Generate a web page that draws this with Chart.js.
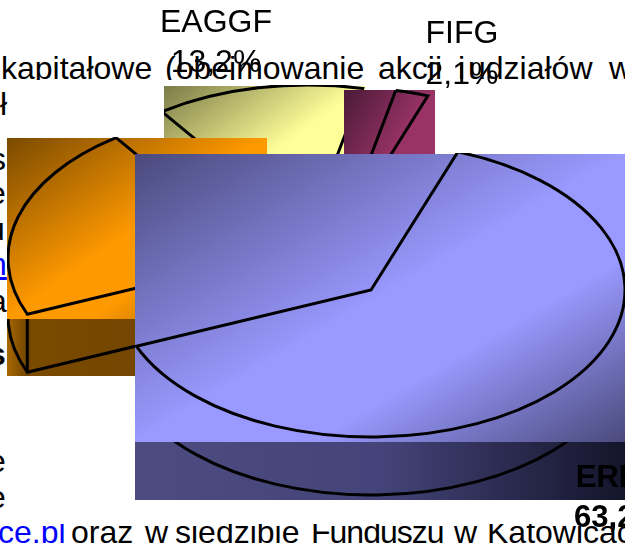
<!DOCTYPE html>
<html><head><meta charset="utf-8">
<script src="https://cdn.jsdelivr.net/npm/chart.js@4/dist/chart.umd.min.js"></script>
<style>
html,body{margin:0;padding:0;background:#fff;overflow:hidden}
#page{position:relative;width:625px;height:543px;overflow:hidden;font-family:"Liberation Sans",Arial,sans-serif;color:#000}
.clip{position:absolute;left:0;width:625px;overflow:hidden}
.w{position:absolute;line-height:1;white-space:nowrap;font-size:32px}
canvas{position:absolute;left:0;top:0}
</style></head>
<body><div id="page"><div id="text"></div><canvas id="c" width="625" height="543"></canvas></div>
<script>
const categories = ['ERDF', 'ESF', 'EAGGF', 'FIFG'];
const shares = [63.2, 21.5, 13.2, 2.1];
const startDegrees = 20;

// Body text showing behind the chart: [text, left, baseline, extra style]
const topLine = [['kapitałowe',1,79],['(obejmowanie',165,79],['akcji',378,79],['i',458,79],['udziałów',468,79],['w',609,79]];
const bottomLine = [['ce.pl',-2,543,'color:#00f'],['oraz',71,543],['w',145,543],['siedzibie',175,543],['Funduszu',311,543,'letter-spacing:-1px'],['w',454,543],['Katowicach',487,543]];
const fragments = [['ł',0,115],['s',-10,170],['e',-12,204],['u',-13,240],['n',-11,275,'color:#00f;text-decoration:underline'],['a',-11,312],['s',-12,365,'font-weight:bold'],['e',-12,472],['e',-12,508]];

// Layout of each slice, in page pixels: apex, gradient box, side-wall band, label lines
const layout = {
  ERDF:{apex:[371,290],box:[135,154,490,288],stops:[[0,'#4a4a7c'],[.5,'#9999ff'],[.68,'#9999ff'],[1,'#4a4a7c']],band:[135,442,490,58],bandStops:[[0,'#4c4c80'],[.5,'#44447a'],[1,'#14142a']],
        label:{x:618,y:[487,527],font:'bold 31px "Liberation Sans"'}},
  ESF:{apex:[262,258],box:[7,138,260,181],stops:[[0,'#7a4a00'],[.5,'#ff9900'],[.66,'#ff9900'],[1,'#8a5400']],band:[7,319,128,57],bandStops:[[0,'#a86800'],[.16,'#704400'],[.2,'#7a4a00'],[1,'#744600']]},
  EAGGF:{apex:[308,232],box:[164,86,201,146],stops:[[0,'#7b7b48'],[.5,'#ffff99'],[1,'#ffff99']],label:{x:216,y:[32,72],font:'32px "Liberation Sans"'}},
  FIFG:{apex:[341,234],box:[344,90,91,146],stops:[[0,'#4a1a38'],[.5,'#993366'],[1,'#993366']],label:{x:462,y:[43,84],font:'32px "Liberation Sans"'}}
};
const drawOrder = ['EAGGF','FIFG','ESF','ERDF'];
const pieRadius = 254, squash = 147/254, wallDepth = 58, outline = 3;

// body text
function addWords(parent, words, offsetTop){
  words.forEach(([t,l,b,st])=>{
    const s=document.createElement('span');s.className='w';s.textContent=t;
    s.style.cssText=(st||'')+';left:'+l+'px;top:'+(b-offsetTop-0.8465*32)+'px';
    parent.appendChild(s);
  });
}
const root=document.getElementById('text');
const c1=document.createElement('div');c1.className='clip';c1.style.top='0';c1.style.height='80px';addWords(c1,topLine,0);root.appendChild(c1);
const c2=document.createElement('div');c2.className='clip';c2.style.top='524px';c2.style.height='19px';addWords(c2,bottomLine,524);root.appendChild(c2);
const c3=document.createElement('div');c3.className='clip';c3.style.top='0';c3.style.height='522px';addWords(c3,fragments,0);root.appendChild(c3);

function diagonal(ctx,[x,y,w,h],stops){
  const nx=h,ny=w,n=Math.hypot(nx,ny),d=(w*nx+h*ny)/n;
  const g=ctx.createLinearGradient(x,y,x+nx/n*d,y+ny/n*d);
  stops.forEach(([p,c])=>g.addColorStop(p,c));
  return g;
}
function bandFill(ctx,[x,y,w,h],stops){
  const g=ctx.createLinearGradient(x,y,x+w,y);
  stops.forEach(([p,c])=>g.addColorStop(p,c));
  return g;
}
function drawArcAt(ctx,arc,chart,apex,dy){
  const nativeStroke=ctx.stroke;
  // keep the outline width even although the circle is flattened
  ctx.stroke=function(){ctx.save();ctx.setTransform(1,0,0,1,0,0);nativeStroke.call(ctx);ctx.restore();};
  ctx.save();
  ctx.translate(apex[0],apex[1]+dy);ctx.scale(1,squash);ctx.translate(-arc.x,-arc.y);
  arc.draw(ctx,chart.chartArea);
  ctx.restore();
  delete ctx.stroke;
}
const exploded={
  id:'exploded',
  beforeDatasetDraw(chart){
    const ctx=chart.ctx,arcs=chart.getDatasetMeta(0).data;
    drawOrder.forEach(name=>{
      const L=layout[name],arc=arcs[categories.indexOf(name)],[bx,by,bw,bh]=L.box;
      ctx.fillStyle=diagonal(ctx,L.box,L.stops);ctx.fillRect(bx,by,bw,bh);
      ctx.save();ctx.beginPath();ctx.rect(bx,by-1,bw,bh+1);ctx.clip();
      drawArcAt(ctx,arc,chart,L.apex,0);
      ctx.restore();
      if(L.band){
        ctx.fillStyle=bandFill(ctx,L.band,L.bandStops);ctx.fillRect(...L.band);
        ctx.save();ctx.beginPath();ctx.rect(...L.band);ctx.clip();
        drawArcAt(ctx,arc,chart,L.apex,wallDepth);
        ctx.strokeStyle='#000';ctx.lineWidth=outline;
        [arc.startAngle,arc.endAngle].forEach(a=>{
          const px=L.apex[0]+arc.outerRadius*Math.cos(a),py=L.apex[1]+arc.outerRadius*Math.sin(a)*squash;
          ctx.beginPath();ctx.moveTo(px,py);ctx.lineTo(px,py+wallDepth);ctx.stroke();
        });
        ctx.restore();
      }
    });
    ctx.fillStyle='#000';ctx.textAlign='center';ctx.textBaseline='alphabetic';
    categories.forEach((name,i)=>{
      const lab=layout[name].label;if(!lab)return;
      ctx.font=lab.font;
      ctx.fillText(name,lab.x,lab.y[0]);
      ctx.fillText(String(shares[i]).replace('.',',')+'%',lab.x,lab.y[1]);
    });
    return false;
  }
};
new Chart(document.getElementById('c'),{
  type:'pie',
  data:{labels:categories,datasets:[{data:shares,backgroundColor:'rgba(0,0,0,0)',borderColor:'#000',borderWidth:outline,borderAlign:'center',borderJoinStyle:'miter'}]},
  options:{responsive:false,animation:false,events:[],rotation:startDegrees,radius:pieRadius,layout:{padding:0},
    plugins:{legend:{display:false},tooltip:{enabled:false},title:{display:false}}},
  plugins:[exploded]
});
</script></body></html>
